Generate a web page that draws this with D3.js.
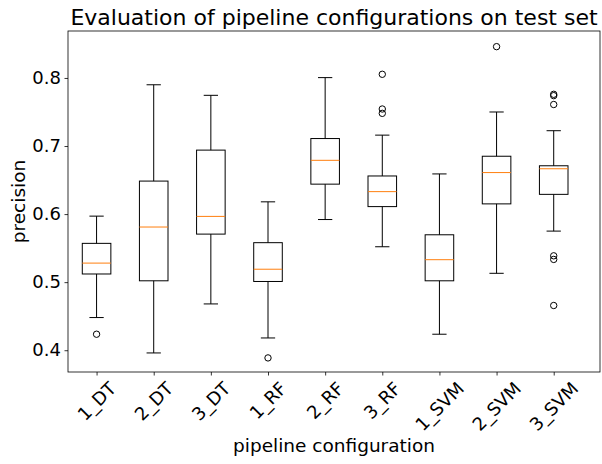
<!DOCTYPE html>
<html>
<head>
<meta charset="utf-8">
<script src="https://cdn.jsdelivr.net/npm/d3@7"></script>
<style>
  html, body { margin: 0; padding: 0; background: #fff; }
  svg { display: block; font-family: "DejaVu Sans", sans-serif; }
</style>
</head>
<body>
<svg id="chart" width="602" height="464"></svg>
<script>
const categories = ["1_DT", "2_DT", "3_DT", "1_RF", "2_RF", "3_RF", "1_SVM", "2_SVM", "3_SVM"];
const whiskerLow  = [0.448, 0.396, 0.468, 0.418, 0.592, 0.552, 0.4235, 0.513, 0.575];
const q1          = [0.512, 0.502, 0.5706, 0.501, 0.644, 0.611, 0.502, 0.615, 0.629];
const medians     = [0.528, 0.581, 0.5966, 0.519, 0.679, 0.633, 0.533, 0.661, 0.6666];
const q3          = [0.557, 0.6485, 0.694, 0.558, 0.711, 0.656, 0.5696, 0.685, 0.671];
const whiskerHigh = [0.597, 0.790, 0.7745, 0.618, 0.8005, 0.716, 0.659, 0.750, 0.7225];
const outliers    = [[0.4235], [], [], [0.3887], [], [0.8054, 0.7544, 0.748], [], [0.846],
                     [0.776, 0.774, 0.761, 0.5387, 0.5334, 0.4657]];
const yTicks = [0.4, 0.5, 0.6, 0.7, 0.8];
const titleText = "Evaluation of pipeline configurations on test set";
const xLabel = "pipeline configuration";
const yLabel = "precision";

const svg = d3.select("#chart");
const L = 68, R = 600, T = 31, B = 372;

const x = d3.scaleLinear().domain([0.5, 9.81]).range([L, R]);
const y = d3.scaleLinear().domain([0.368, 0.869]).range([B, T]);
const unit = x(2) - x(1);
const boxW = 0.5 * unit;

// Y axis
const yAxis = d3.axisLeft(y).tickValues(yTicks).tickFormat(d3.format(".1f")).tickSize(3.5).tickPadding(3.5);
const gy = svg.append("g").attr("transform", `translate(${L},0)`).call(yAxis);
gy.select(".domain").remove();
gy.selectAll("line").attr("stroke", "#000").attr("stroke-width", 0.8);
gy.selectAll("text").attr("font-size", 18).attr("fill", "#000").attr("font-family", "DejaVu Sans");

// X axis
const xAxis = d3.axisBottom(x).tickValues(d3.range(1, 10)).tickFormat(() => "").tickSize(3.5);
const gx = svg.append("g").attr("transform", `translate(0,${B})`).call(xAxis);
gx.select(".domain").remove();
gx.selectAll("line").attr("stroke", "#000").attr("stroke-width", 0.8);

// rotated x labels (matplotlib rotation=45, ha center, va top)
const labTop = B + 3.5 + 3.5;
categories.forEach((c, i) => {
  const t = svg.append("text").text(c)
    .attr("font-size", 18).attr("fill", "#000")
    .attr("text-anchor", "middle").attr("dominant-baseline", "central");
  const w = t.node().getComputedTextLength();
  const h = 18 * 0.95;
  const bb = (w + h) * Math.SQRT1_2;
  const cx = x(i + 1), cy = labTop + bb / 2;
  t.attr("x", 0).attr("y", 0).attr("transform", `translate(${cx},${cy}) rotate(-45)`);
});

// Boxes
const g = svg.append("g");
categories.forEach((c, i) => {
  const cx = x(i + 1);
  g.append("line").attr("x1", cx).attr("x2", cx).attr("y1", y(q3[i])).attr("y2", y(whiskerHigh[i]))
    .attr("stroke", "#000").attr("stroke-width", 1);
  g.append("line").attr("x1", cx).attr("x2", cx).attr("y1", y(q1[i])).attr("y2", y(whiskerLow[i]))
    .attr("stroke", "#000").attr("stroke-width", 1);
  [whiskerHigh[i], whiskerLow[i]].forEach(v => {
    g.append("line").attr("x1", cx - boxW / 4).attr("x2", cx + boxW / 4).attr("y1", y(v)).attr("y2", y(v))
      .attr("stroke", "#000").attr("stroke-width", 1);
  });
  g.append("rect").attr("x", cx - boxW / 2).attr("width", boxW)
    .attr("y", y(q3[i])).attr("height", y(q1[i]) - y(q3[i]))
    .attr("fill", "none").attr("stroke", "#000").attr("stroke-width", 1);
  g.append("line").attr("x1", cx - boxW / 2).attr("x2", cx + boxW / 2).attr("y1", y(medians[i])).attr("y2", y(medians[i]))
    .attr("stroke", "#ff7f0e").attr("stroke-width", 1);
  outliers[i].forEach(v => {
    g.append("circle").attr("cx", cx).attr("cy", y(v)).attr("r", 3.2)
      .attr("fill", "none").attr("stroke", "#000").attr("stroke-width", 1);
  });
});

// frame
svg.append("rect").attr("x", L).attr("y", T).attr("width", R - L).attr("height", B - T)
  .attr("fill", "none").attr("stroke", "#000").attr("stroke-width", 0.8);

// title & labels
svg.append("text").text(titleText).attr("x", (L + R) / 2).attr("y", 25)
  .attr("text-anchor", "middle").attr("font-size", 22).attr("fill", "#000");
svg.append("text").text(xLabel).attr("x", (L + R) / 2).attr("y", 452)
  .attr("text-anchor", "middle").attr("font-size", 18.5).attr("fill", "#000");
svg.append("text").text(yLabel).attr("transform", `translate(25,${(T + B) / 2}) rotate(-90)`)
  .attr("text-anchor", "middle").attr("font-size", 18.5).attr("fill", "#000");
</script>
</body>
</html>
